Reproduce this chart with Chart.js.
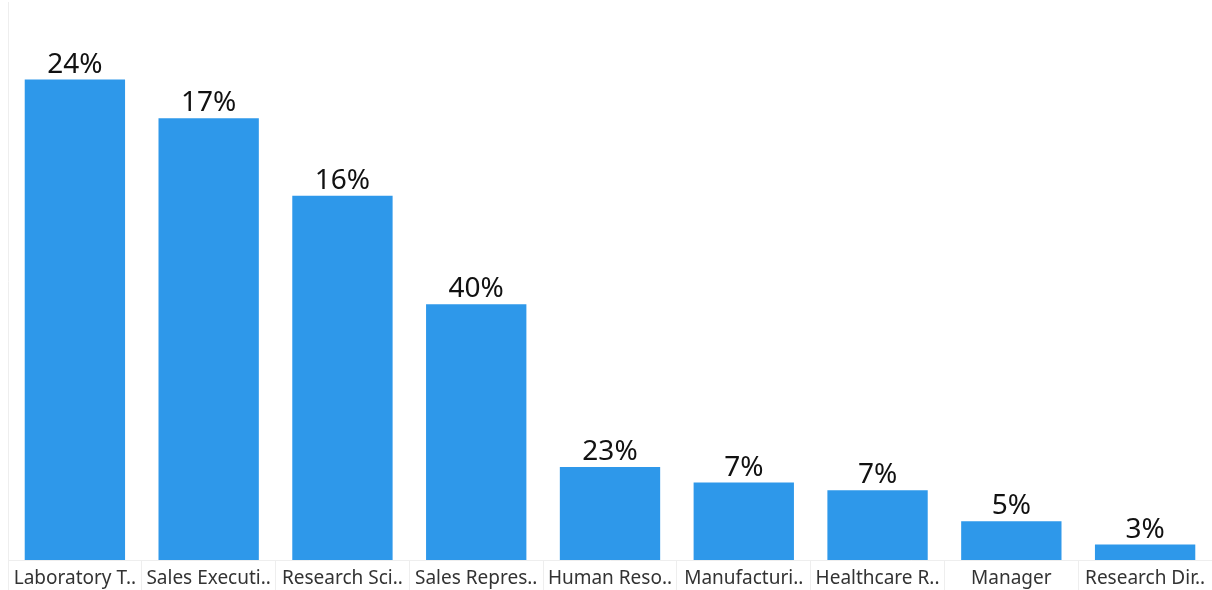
<!DOCTYPE html>
<html>
<head>
<meta charset="utf-8">
<script src="https://cdn.jsdelivr.net/npm/chart.js@4/dist/chart.umd.min.js"></script>
<style>
  html, body { margin: 0; padding: 0; background: #fff; }
  #wrap { width: 1212px; height: 590px; }
</style>
</head>
<body>
<div id="wrap"><canvas id="chart" width="1212" height="590"></canvas></div>
<script>
// job roles (truncated the same way as the source)
const roles = [
  "Laboratory T..", "Sales Executi..", "Research Sci..", "Sales Repres..",
  "Human Reso..", "Manufacturi..", "Healthcare R..", "Manager", "Research Dir.."
];
// attrition count per role (bar height)
const attritionCount = [62, 57, 47, 33, 12, 10, 9, 5, 2];
// attrition rate per role, % (label on top)
const attritionRate = [24, 17, 16, 40, 23, 7, 7, 5, 3];

// draws the % text above each bar
const topLabels = {
  id: "topLabels",
  afterDatasetsDraw(chart) {
    const ctx = chart.ctx;
    const meta = chart.getDatasetMeta(0);
    ctx.save();
    ctx.font = "28px 'Noto Sans', sans-serif";
    ctx.fillStyle = "#111";
    ctx.textAlign = "center";
    ctx.textBaseline = "alphabetic";
    meta.data.forEach((bar, i) => {
      ctx.fillText(attritionRate[i] + "%", bar.x, bar.y - 7);
    });
    ctx.restore();
  },
};

new Chart(document.getElementById("chart"), {
  type: "bar",
  data: {
    labels: roles,
    datasets: [
      {
        data: attritionCount,
        backgroundColor: "#2e98ea",
        barPercentage: 0.75,
        categoryPercentage: 1,
      },
    ],
  },
  options: {
    responsive: false,
    animation: false,
    layout: { padding: { left: 0, right: 0, top: 2, bottom: 0 } },
    plugins: {
      legend: { display: false },
      tooltip: { enabled: false },
    },
    scales: {
      x: {
        grid: {
          display: true,
          offset: true,
          drawOnChartArea: false,
          tickLength: 30,
          color: "#eeeeee",
        },
        border: { display: true, color: "#eeeeee" },
        ticks: {
          color: "#333",
          font: { family: "'Noto Sans', sans-serif", size: 19 },
          padding: -23,
          maxRotation: 0,
          autoSkip: false,
        },
        afterFit(axis) {
          axis.height = 30;
        },
      },
      y: {
        display: true,
        min: 0,
        max: 72,
        grid: { display: false },
        border: { display: true, color: "#eeeeee" },
        ticks: { display: false },
      },
    },
  },
  plugins: [topLabels],
});
</script>
</body>
</html>
